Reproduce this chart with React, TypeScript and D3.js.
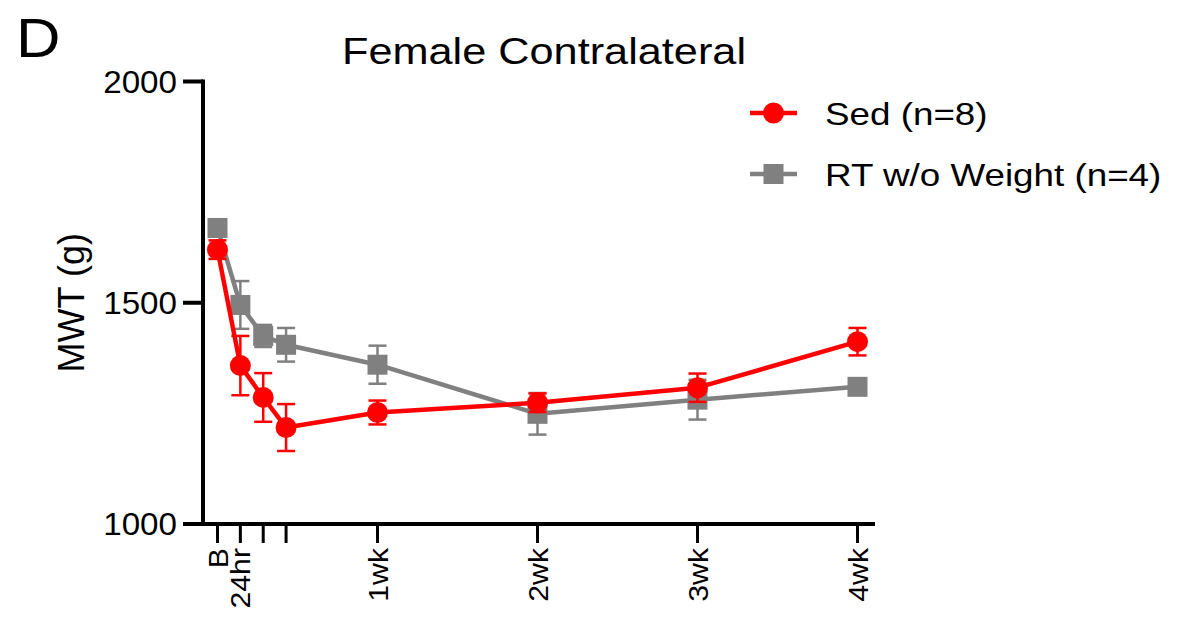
import React from "react";
import * as d3 from "d3";

const days = [0, 1, 2, 3, 7, 14, 21, 28];
const tickLabels = ["B", "24hr", "", "", "1wk", "2wk", "3wk", "4wk"];
const sedMean = [1620, 1358, 1286, 1218, 1252, 1274, 1308, 1412];
const sedErr = [21, 67, 55, 53, 27, 21, 32, 31];
const rtMean = [1669, 1495, 1425, 1405, 1360, 1249, 1281, 1310];
const rtErr = [12, 54, 25, 38, 43, 47, 45, 10];
const yTicks = [1000, 1500, 2000];
const seriesNames = ["Sed (n=8)", "RT w/o Weight (n=4)"];

const RED = "#ff0000";
const GRAY = "#808080";
const FONT = "Arial, 'Liberation Sans', Helvetica, sans-serif";

export default function App() {
  const x = d3.scaleLinear().domain([0, 28]).range([217.5, 857.5]);
  const y = d3.scaleLinear().domain([1000, 2000]).range([524, 81.5]);
  const line = d3
    .line<number>()
    .x((_, i) => x(days[i]))
    .y((d) => y(d));

  const series = [
    { name: seriesNames[1], mean: rtMean, err: rtErr, color: GRAY, shape: "square" },
    { name: seriesNames[0], mean: sedMean, err: sedErr, color: RED, shape: "circle" },
  ];

  const axisLeft = 203;
  const axisBottom = 524;

  return (
    <svg
      width={1192}
      height={622}
      style={{ position: "absolute", left: 0, top: 0, background: "#fff" }}
      fontFamily={FONT}
    >
      <rect x={0} y={0} width={1192} height={622} fill="#fff" />
      {/* panel letter */}
      <text transform="translate(16,57) scale(1.1,1)" fontSize={56} fill="#000">
        D
      </text>
      {/* title */}
      <text transform="translate(544,64) scale(1.17,1)" textAnchor="middle" fontSize={37} fill="#000">
        Female Contralateral
      </text>
      {/* y axis */}
      <line x1={axisLeft} x2={axisLeft} y1={y(2000) - 2} y2={axisBottom + 2} stroke="#000" strokeWidth={4} />
      {yTicks.map((t) => (
        <g key={"yt" + t}>
          <line x1={183} x2={axisLeft} y1={y(t)} y2={y(t)} stroke="#000" strokeWidth={4} />
          <text
            transform={`translate(177,${y(t)}) scale(1.07,1)`}
            dy="0.36em"
            textAnchor="end"
            fontSize={31}
            fill="#000"
          >
            {t}
          </text>
        </g>
      ))}
      <text transform={`translate(84,${y(1500)}) rotate(-90)`} textAnchor="middle" fontSize={36} fill="#000">
        MWT (g)
      </text>
      {/* x axis */}
      <line x1={axisLeft - 2} x2={875} y1={axisBottom} y2={axisBottom} stroke="#000" strokeWidth={4} />
      {days.map((d, i) => (
        <g key={"xt" + i}>
          <line x1={x(d)} x2={x(d)} y1={axisBottom} y2={axisBottom + 19} stroke="#000" strokeWidth={3} />
          {tickLabels[i] ? (
            <text
              transform={`translate(${x(d) + 10},548) rotate(-90) scale(1.08,1)`}
              textAnchor="end"
              fontSize={28}
              fill="#000"
            >
              {tickLabels[i]}
            </text>
          ) : null}
        </g>
      ))}
      {/* series */}
      {series.map((s) => (
        <g key={s.name}>
          <path d={line(s.mean) || ""} fill="none" stroke={s.color} strokeWidth={4.5} strokeLinejoin="round" />
          {s.mean.map((m, i) => {
            const cx = x(days[i]);
            const y1 = y(m + s.err[i]);
            const y2 = y(m - s.err[i]);
            return (
              <g key={i}>
                <line x1={cx} x2={cx} y1={y1} y2={y2} stroke={s.color} strokeWidth={2.5} />
                <line x1={cx - 9} x2={cx + 9} y1={y1} y2={y1} stroke={s.color} strokeWidth={2.5} />
                <line x1={cx - 9} x2={cx + 9} y1={y2} y2={y2} stroke={s.color} strokeWidth={2.5} />
                {s.shape === "circle" ? (
                  <circle cx={cx} cy={y(m)} r={10.5} fill={s.color} />
                ) : (
                  <rect x={cx - 10} y={y(m) - 10} width={20} height={20} fill={s.color} />
                )}
              </g>
            );
          })}
        </g>
      ))}
      {/* legend */}
      {[
        { name: seriesNames[0], color: RED, shape: "circle", ly: 113 },
        { name: seriesNames[1], color: GRAY, shape: "square", ly: 174 },
      ].map((l) => (
        <g key={"lg" + l.name}>
          <line x1={750} x2={797} y1={l.ly} y2={l.ly} stroke={l.color} strokeWidth={4.5} />
          {l.shape === "circle" ? (
            <circle cx={773.5} cy={l.ly} r={10.5} fill={l.color} />
          ) : (
            <rect x={763.5} y={l.ly - 10} width={20} height={20} fill={l.color} />
          )}
          <text transform={`translate(825,${l.ly}) scale(1.15,1)`} dy="0.36em" fontSize={32} fill="#000">
            {l.name}
          </text>
        </g>
      ))}
    </svg>
  );
}
